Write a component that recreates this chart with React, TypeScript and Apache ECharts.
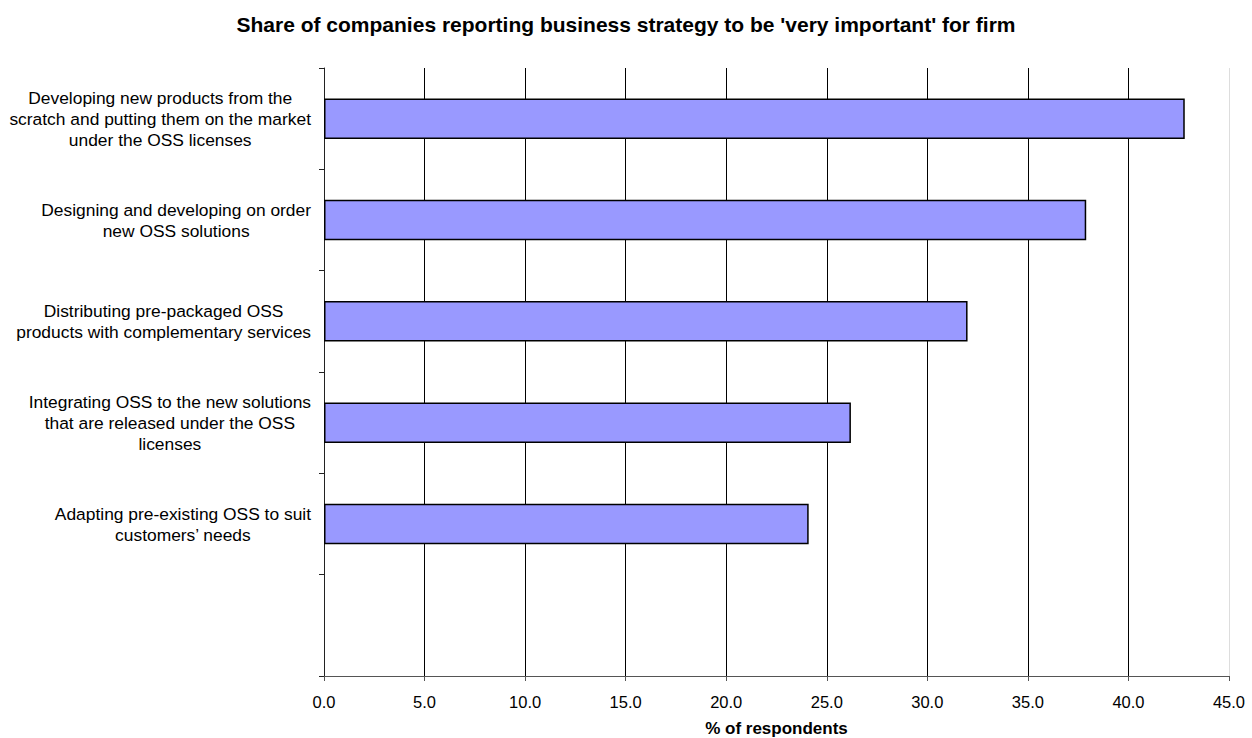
import React, { useEffect, useRef } from "react";
import * as echarts from "echarts";

const categories = [
  "Developing new products from the\nscratch and putting them on the market\nunder the OSS licenses",
  "Designing and developing on order\nnew OSS solutions",
  "Distributing pre-packaged OSS\nproducts with complementary services",
  "Integrating OSS to the new solutions\nthat are released under the OSS\nlicenses",
  "Adapting pre-existing OSS to suit\ncustomers\u2019 needs",
  "",
];
const values: (number | string)[] = [42.8, 37.9, 32.0, 26.2, 24.1, "-"];
const titleText = "Share of companies reporting business strategy to be 'very important' for firm";
const xAxisName = "% of respondents";

export default function App() {
  const ref = useRef<HTMLDivElement>(null);
  useEffect(() => {
    if (!ref.current) return;
    const chart = echarts.init(ref.current, null, { renderer: "svg" });
    const font = "Liberation Sans, Arial, sans-serif";
    chart.setOption({
      animation: false,
      backgroundColor: "#ffffff",
      textStyle: { fontFamily: font },
      title: {
        text: titleText,
        left: "center",
        top: 9,
        textStyle: { fontFamily: font, fontSize: 21, fontWeight: "bold", color: "#000" },
      },
      grid: {
        left: 324,
        right: 23,
        top: 68,
        bottom: 62,
        containLabel: false,
        outerBoundsMode: "none",
      },
      xAxis: {
        type: "value",
        min: 0,
        max: 45,
        interval: 5,
        name: xAxisName,
        nameLocation: "middle",
        nameGap: 44,
        nameTextStyle: { fontFamily: font, fontSize: 17, fontWeight: "bold", color: "#000" },
        axisLine: { show: true, lineStyle: { color: "#555", width: 1 } },
        axisTick: { show: true, length: 5, lineStyle: { color: "#555" } },
        axisLabel: {
          color: "#000",
          fontSize: 16.5,
          fontFamily: font,
          margin: 17,
          formatter: (v: number) => v.toFixed(1),
        },
        splitLine: {
          show: true,
          lineStyle: {
            color: ["#000", "#000", "#000", "#000", "#000", "#000", "#000", "#000", "#000", "#ddd"],
            width: 1,
          },
        },
      },
      yAxis: {
        type: "category",
        data: categories,
        inverse: true,
        boundaryGap: true,
        axisLine: { show: true, lineStyle: { color: "#222", width: 1 } },
        axisTick: { show: true, length: 5, lineStyle: { color: "#222" } },
        axisLabel: {
          color: "#000",
          fontFamily: font,
          margin: 13,
          align: "right",
          formatter: (v: string) =>
            v
              .split("\n")
              .map((l) => (l ? "{c|" + l + "}" : ""))
              .join("\n"),
          rich: {
            c: { align: "center", fontSize: 17.4, lineHeight: 21, color: "#000", fontFamily: font },
          },
        },
        splitLine: { show: false },
      },
      series: [
        {
          type: "bar",
          data: values,
          barWidth: "40%",
          itemStyle: { color: "#9999ff", borderColor: "#000", borderWidth: 1.5 },
        },
      ],
    });
    return () => chart.dispose();
  }, []);
  return (
    <div
      ref={ref}
      style={{ position: "absolute", left: 0, top: 0, width: 1252, height: 738 }}
    />
  );
}
